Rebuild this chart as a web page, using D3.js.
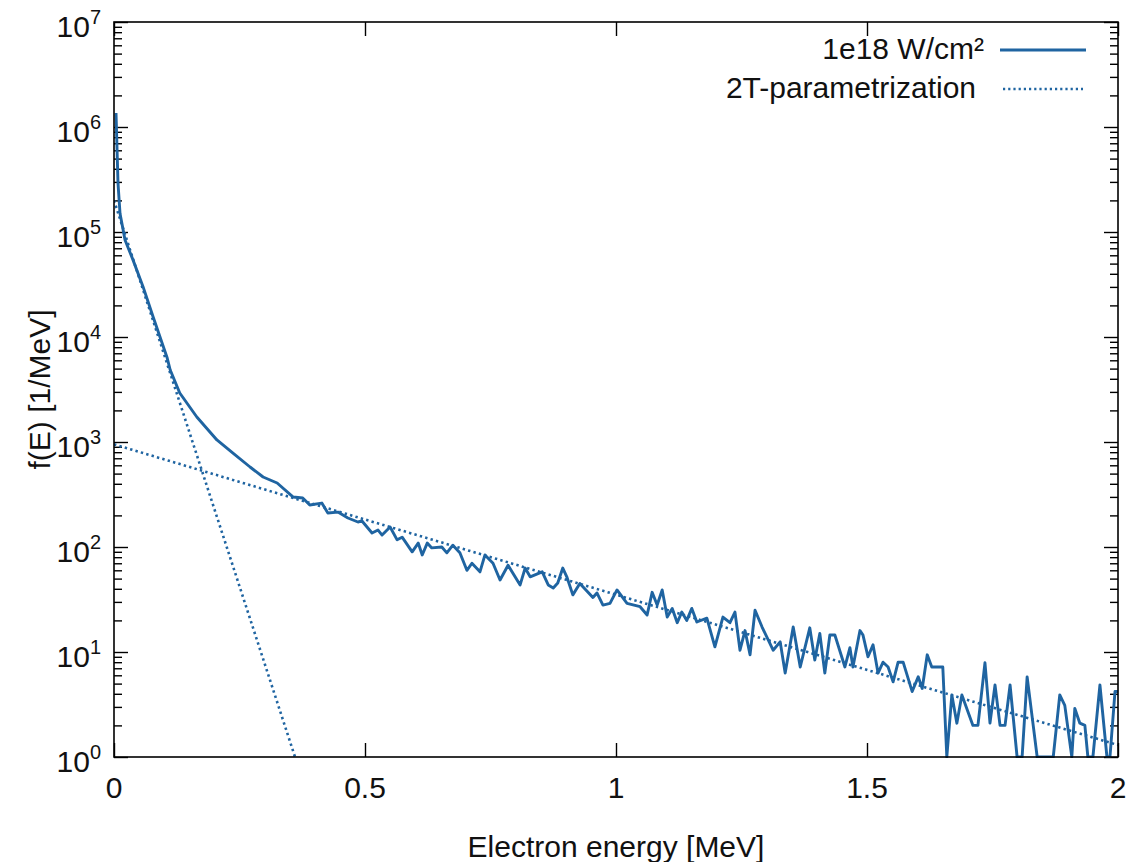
<!DOCTYPE html>
<html>
<head>
<meta charset="utf-8">
<script src="https://cdn.jsdelivr.net/npm/d3@7"></script>
<style>
  html, body { margin: 0; padding: 0; background: #fff; }
  svg { display: block; }
  text { font-family: "Liberation Sans", Arial, sans-serif; fill: #111; }
</style>
</head>
<body>
<svg id="chart" width="1127" height="862"></svg>
<script>
// ---------- data ----------
const energy = [
  0.004, 0.008, 0.012, 0.022, 0.038, 0.058, 0.078, 0.106, 0.112, 0.131,
  0.165, 0.205, 0.237, 0.271, 0.297, 0.325, 0.357, 0.376, 0.390, 0.414,
  0.426, 0.446, 0.466, 0.486, 0.494, 0.514, 0.526, 0.534, 0.550, 0.564,
  0.574, 0.594, 0.606, 0.614, 0.624, 0.633, 0.653, 0.663, 0.675, 0.689,
  0.703, 0.713, 0.729, 0.739, 0.755, 0.769, 0.785, 0.809, 0.819, 0.829,
  0.853, 0.865, 0.875, 0.884, 0.894, 0.902, 0.914, 0.928, 0.954, 0.962,
  0.974, 0.988, 1.002, 1.022, 1.048, 1.062, 1.072, 1.082, 1.092, 1.102,
  1.112, 1.122, 1.131, 1.141, 1.151, 1.161, 1.181, 1.197, 1.213, 1.227,
  1.237, 1.247, 1.257, 1.267, 1.277, 1.291, 1.313, 1.327, 1.337, 1.353,
  1.367, 1.386, 1.396, 1.406, 1.416, 1.426, 1.436, 1.456, 1.466, 1.472,
  1.486, 1.492, 1.502, 1.512, 1.522, 1.532, 1.542, 1.552, 1.562, 1.572,
  1.590, 1.602, 1.610, 1.620, 1.629, 1.651, 1.659, 1.669, 1.679, 1.689,
  1.711, 1.721, 1.735, 1.745, 1.755, 1.765, 1.775, 1.785, 1.799, 1.809,
  1.819, 1.839, 1.851, 1.871, 1.884, 1.894, 1.908, 1.914, 1.924, 1.934,
  1.940, 1.950, 1.964, 1.978, 1.984, 1.994, 2.000
];
const spectrum = [
  1.36e6, 2.9e5, 1.5e5, 8.4e4, 5.4e4, 3.0e4, 1.55e4, 6300, 4850, 2930,
  1730, 1045, 785, 578, 464, 407, 299, 293, 251, 262,
  211, 215, 189, 173, 177, 136, 145, 130, 155, 117,
  124, 90, 109, 84, 109, 98, 100, 88, 104, 88,
  60, 70, 58, 84, 70, 48.5, 67, 43.5, 63, 52,
  58, 43.5, 40.7, 45.4, 63, 52, 35, 45, 33, 36.5,
  28, 29, 39, 29, 27, 22.5, 37, 28, 39, 21.5,
  26, 19, 24, 20, 26, 19.3, 21, 11.2, 21.5, 19,
  24, 10.4, 16, 9.4, 25, 17.3, 10.4, 12.5, 6.3, 17.3,
  7.2, 17, 8.4, 15, 6.3, 14.5, 14.5, 7.2, 11, 7.2,
  16, 14.5, 9.0, 11.7, 6.3, 8.0, 7.2, 5.2, 8.0, 8.0,
  4.2, 5.8, 4.5, 9.4, 7.2, 7.2, 1, 3.9, 2.1, 3.9,
  2.0, 2.0, 7.9, 2.1, 4.85, 2.0, 2.0, 4.85, 1, 1,
  5.8, 1, 1, 1, 3.9, 3.1, 1, 2.9, 2.1, 2.0,
  1, 1, 4.85, 1, 1, 4.2, 4.2
];
// 2T parametrization: two exponential components (straight on log axis)
const hotEnergy = [0, 2];
const hotValues = [950, 1.3];
const coldEnergy = [0, 0.3606];
const coldValues = [2.0e5, 1];

const xTicks = [0, 0.5, 1, 1.5, 2];
const xTickLabels = ["0", "0.5", "1", "1.5", "2"];
const yExponents = [0, 1, 2, 3, 4, 5, 6, 7];
const legendLabels = ["1e18 W/cm\u00B2", "2T-parametrization"];
const xTitle = "Electron energy [MeV]";
const yTitle = "f(E) [1/MeV]";

// ---------- layout ----------
const L = 114, R = 1118, T = 22, B = 757;
const FS = 30;            // font size
const COLOR = "#1f64a1";

const svg = d3.select("#chart");
const x = d3.scaleLinear().domain([0, 2]).range([L, R]);
const y = d3.scaleLog().domain([1, 1e7]).range([B, T]);

function stext(g, px, py, anchor, rot) {
  return g.append("text")
    .attr("transform", `translate(${px},${py})` + (rot ? ` rotate(${rot})` : ""))
    .attr("text-anchor", anchor)
    .style("font-size", FS + "px");
}

// ---------- ticks ----------
const majorY = yExponents.map(e => Math.pow(10, e));
const minorY = [];
yExponents.slice(0, -1).forEach(e => { for (let k = 2; k <= 9; k++) minorY.push(k * Math.pow(10, e)); });

const axes = svg.append("g");
function tickAxis(axisFn, scale, vals, size, transform) {
  const g = axes.append("g").attr("transform", transform)
    .call(axisFn(scale).tickValues(vals).tickSize(size).tickFormat(""));
  g.select(".domain").remove();
  g.selectAll(".tick line").attr("stroke", "#000").attr("stroke-width", 1.4);
}
tickAxis(d3.axisLeft, y, majorY, -14, `translate(${L},0)`);
tickAxis(d3.axisLeft, y, minorY, -8, `translate(${L},0)`);
tickAxis(d3.axisRight, y, majorY, -14, `translate(${R},0)`);
tickAxis(d3.axisRight, y, minorY, -8, `translate(${R},0)`);
tickAxis(d3.axisBottom, x, xTicks, -14, `translate(0,${B})`);
tickAxis(d3.axisTop, x, xTicks, -14, `translate(0,${T})`);

// ---------- clip ----------
svg.append("clipPath").attr("id", "plotclip")
  .append("rect").attr("x", L).attr("y", T).attr("width", R - L).attr("height", B - T + 1);

const plot = svg.append("g").attr("clip-path", "url(#plotclip)");

const line = d3.line().x(d => x(d[0])).y(d => y(d[1]));

plot.append("path")
  .datum(hotEnergy.map((e, i) => [e, hotValues[i]]))
  .attr("d", line).attr("fill", "none").attr("stroke", COLOR)
  .attr("stroke-width", 2.6).attr("stroke-dasharray", "2.4,3.2");
plot.append("path")
  .datum(coldEnergy.map((e, i) => [e, coldValues[i]]))
  .attr("d", line).attr("fill", "none").attr("stroke", COLOR)
  .attr("stroke-width", 2.6).attr("stroke-dasharray", "2.4,3.2");

plot.append("path")
  .datum(energy.map((e, i) => [e, spectrum[i]]))
  .attr("d", line).attr("fill", "none").attr("stroke", COLOR)
  .attr("stroke-width", 2.9).attr("stroke-linejoin", "round");

// ---------- frame ----------
svg.append("rect").attr("x", L).attr("y", T).attr("width", R - L).attr("height", B - T)
  .attr("fill", "none").attr("stroke", "#000").attr("stroke-width", 1.6);

// ---------- tick labels ----------
const lab = svg.append("g");
yExponents.forEach(e => {
  const t = stext(lab, 101, y(Math.pow(10, e)) + 15, "end");
  t.append("tspan").text("10");
  t.append("tspan").attr("dy", -13).style("font-size", "20px").text(String(e));
});
xTicks.forEach((v, i) => {
  stext(lab, x(v), 798, "middle").text(xTickLabels[i]);
});

// ---------- axis titles ----------
stext(lab, 616, 857, "middle").text(xTitle);
stext(lab, 50, (T + B) / 2, "middle", -90).text(yTitle);

// ---------- legend ----------
const leg = svg.append("g");
stext(leg, 984, 59, "end").text(legendLabels[0]);
stext(leg, 976, 98, "end").text(legendLabels[1]);
leg.append("line").attr("x1", 1000).attr("x2", 1086).attr("y1", 50).attr("y2", 50)
  .attr("stroke", COLOR).attr("stroke-width", 2.8);
leg.append("line").attr("x1", 1003).attr("x2", 1083).attr("y1", 89).attr("y2", 89)
  .attr("stroke", COLOR).attr("stroke-width", 2.4).attr("stroke-dasharray", "2.2,3");
</script>
</body>
</html>
